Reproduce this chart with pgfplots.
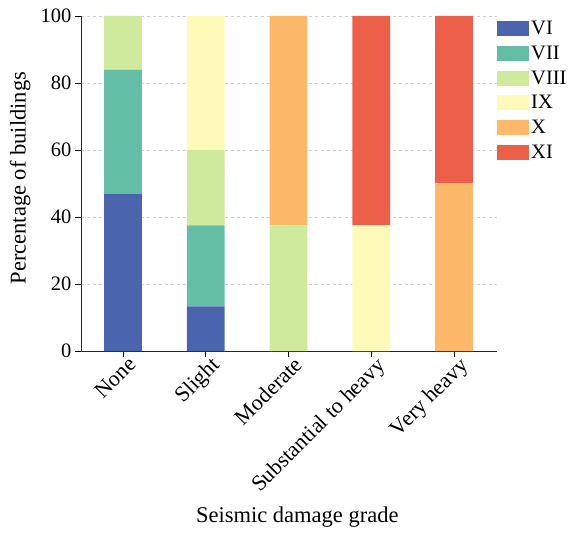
\documentclass[border=0pt]{standalone}
\usepackage{pgfplots}
\pgfplotsset{compat=1.18}
\usepackage{fontspec}
\setmainfont{Liberation Serif}
\definecolor{cVI}{RGB}{74,101,173}
\definecolor{cVII}{RGB}{99,190,165}
\definecolor{cVIII}{RGB}{207,234,157}
\definecolor{cIX}{RGB}{254,250,185}
\definecolor{cX}{RGB}{253,184,106}
\definecolor{cXI}{RGB}{236,96,73}
\begin{document}
\begin{tikzpicture}
\begin{axis}[
  name=ax,
  width=416pt, height=335pt, scale only axis,
  ybar stacked, bar width=37.7pt,
  xmin=-0.508, xmax=4.52, ymin=0, ymax=100,
  xtick={0,1,2,3,4},
  xticklabels={None,Slight,Moderate,Substantial to heavy,Very heavy},
  ytick={0,20,40,60,80,100},
  axis lines*=left,
  tick align=outside, major tick length=6pt,
  tick style={black, line width=0.9pt},
  axis line style={line width=0.9pt, black!85},
  ymajorgrids, major grid style={dashed, gray!35, line width=0.4pt},
  /pgf/number format/assume math mode=true,
  tick label style={font=\fontsize{20.5}{24}\selectfont},
  x tick label style={rotate=45, anchor=north east, inner sep=2pt, xshift=6pt, font=\fontsize{22}{26}\selectfont},
  label style={font=\fontsize{22.5}{26}\selectfont},
  xlabel={Seismic damage grade},
  ylabel={Percentage of buildings},
  xlabel style={at={(axis description cs:0.52,-0.496)}, anchor=center},
  ylabel style={at={(axis description cs:-0.1466,0.516)}, anchor=center, rotate=0},
  legend style={draw=none, fill=none, at={(1.0,1.0)}, anchor=north west,
    font=\fontsize{20.5}{24}\selectfont, row sep=5.8pt, inner sep=0pt, yshift=-3pt,
    /tikz/every even column/.append style={column sep=6pt}},
  legend cell align=left,
  legend image code/.code={\fill[#1] (0pt,-7.5pt) rectangle (32pt,7.5pt);},
  every axis plot/.append style={draw=none},
]
\addplot[fill=cVI] coordinates {(0,47) (1,13.3) (2,0) (3,0) (4,0)};
\addplot[fill=cVII] coordinates {(0,37) (1,24.2) (2,0) (3,0) (4,0)};
\addplot[fill=cVIII] coordinates {(0,16) (1,22.5) (2,37.5) (3,0) (4,0)};
\addplot[fill=cIX] coordinates {(0,0) (1,40) (2,0) (3,37.5) (4,0)};
\addplot[fill=cX] coordinates {(0,0) (1,0) (2,62.5) (3,0) (4,50)};
\addplot[fill=cXI] coordinates {(0,0) (1,0) (2,0) (3,62.5) (4,50)};
\legend{VI,VII,VIII,IX,X,XI}
\end{axis}
\pgfresetboundingbox
\path ([shift={(-81pt,-181pt)}]ax.south west) rectangle ([shift={(74pt,16pt)}]ax.north east);
\end{tikzpicture}
\end{document}
